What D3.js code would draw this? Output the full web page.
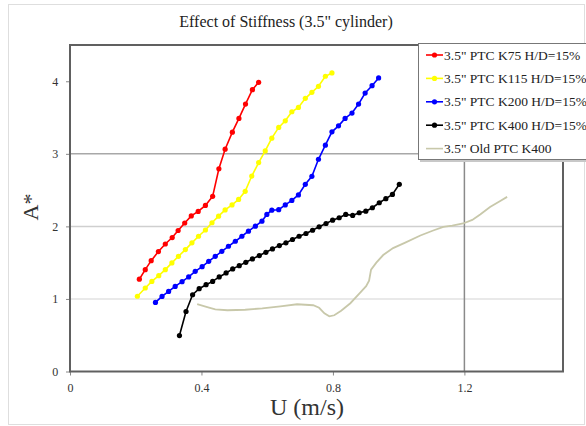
<!DOCTYPE html>
<html><head><meta charset="utf-8">
<script src="https://cdn.jsdelivr.net/npm/d3@7"></script>
<style>body{margin:0;background:#fff}svg{display:block}text{font-family:"Liberation Serif","Times New Roman",serif}</style>
</head><body>
<svg id="c" width="586" height="426"></svg>
<script>
const title = 'Effect of Stiffness (3.5" cylinder)';
const xTicks = [0, 0.4, 0.8, 1.2];
const yTicks = [0, 1, 2, 3, 4];
const seriesNames = ['3.5" PTC K75 H/D=15%', '3.5" PTC K115 H/D=15%', '3.5" PTC K200 H/D=15%', '3.5" PTC K400 H/D=15%', '3.5" Old PTC K400'];

const k75U = [0.211,0.229,0.247,0.269,0.290,0.311,0.329,0.349,0.369,0.390,0.412,0.434,0.453,0.472,0.494,0.514,0.534,0.555,0.574];
const k75A = [1.272,1.404,1.528,1.653,1.757,1.846,1.943,2.047,2.144,2.206,2.289,2.414,2.794,3.064,3.299,3.488,3.686,3.884,3.986];

const k115U = [0.205,0.229,0.249,0.270,0.290,0.310,0.330,0.351,0.371,0.391,0.412,0.432,0.452,0.472,0.493,0.513,0.533,0.553,0.574,0.594,0.614,0.635,0.655,0.675,0.695,0.716,0.736,0.756,0.777,0.797];
const k115A = [1.037,1.151,1.242,1.321,1.404,1.497,1.588,1.680,1.773,1.864,1.950,2.050,2.141,2.227,2.296,2.372,2.483,2.694,2.880,3.040,3.216,3.364,3.455,3.580,3.640,3.765,3.848,3.931,4.069,4.115];

const k200U = [0.260,0.280,0.300,0.320,0.341,0.361,0.381,0.402,0.422,0.442,0.462,0.482,0.503,0.523,0.543,0.564,0.584,0.599,0.614,0.635,0.655,0.675,0.695,0.716,0.736,0.756,0.777,0.797,0.817,0.837,0.858,0.878,0.898,0.919,0.939];
const k200A = [0.952,1.035,1.104,1.173,1.238,1.303,1.380,1.445,1.519,1.588,1.657,1.726,1.795,1.864,1.934,2.003,2.072,2.165,2.224,2.230,2.296,2.358,2.434,2.580,2.690,2.925,3.119,3.303,3.386,3.488,3.562,3.686,3.838,3.939,4.046];

const k400U = [0.333,0.353,0.373,0.393,0.414,0.434,0.454,0.475,0.495,0.515,0.535,0.555,0.576,0.596,0.616,0.637,0.657,0.677,0.697,0.718,0.738,0.758,0.779,0.799,0.819,0.839,0.860,0.880,0.900,0.920,0.941,0.961,0.981,1.002];
const k400A = [0.495,0.827,1.058,1.141,1.196,1.242,1.303,1.358,1.414,1.459,1.505,1.552,1.598,1.643,1.690,1.736,1.773,1.819,1.864,1.902,1.947,1.994,2.040,2.086,2.119,2.165,2.151,2.188,2.210,2.257,2.326,2.382,2.441,2.580];

const oldU = [0.387,0.415,0.442,0.479,0.533,0.585,0.640,0.691,0.740,0.758,0.774,0.789,0.804,0.825,0.853,0.883,0.901,0.910,0.916,0.932,0.953,0.983,1.020,1.066,1.105,1.136,1.163,1.196,1.224,1.248,1.278,1.309,1.330];
const oldA = [0.927,0.892,0.857,0.844,0.851,0.871,0.899,0.927,0.913,0.878,0.802,0.761,0.775,0.837,0.941,1.086,1.176,1.252,1.404,1.501,1.605,1.701,1.777,1.874,1.943,1.992,2.012,2.040,2.089,2.165,2.268,2.351,2.407];

const colors = ['#ff0000', '#ffff00', '#0000ff', '#000000', '#c8c8aa'];
const series = [
  {u:k75U, a:k75A, markers:true},
  {u:k115U, a:k115A, markers:true},
  {u:k200U, a:k200A, markers:true},
  {u:k400U, a:k400A, markers:true},
  {u:oldU, a:oldA, markers:false}
].map((s,i)=>({...s, name:seriesNames[i], color:colors[i], pts:s.u.map((u,j)=>[u,s.a[j]])}));

const svg = d3.select('#c');
const L = 70, T = 45, R = 563, B = 371.5;
const x = d3.scaleLinear().domain([0,1.5]).range([L,R]);
const y = d3.scaleLinear().domain([0,4.5]).range([B,T]);

// outer border
svg.append('rect').attr('x',8.5).attr('y',4.5).attr('width',576).attr('height',420).attr('fill','#fff').attr('stroke','#dedede');

// title
svg.append('text').attr('x',286).attr('y',27).attr('text-anchor','middle').attr('font-size',16).attr('fill','#222').text(title);

// gridlines
const gridCol = {1:'#e2e2e2', 2:'#cfcfcf', 3:'#a8a8a8'};
svg.append('g').selectAll('line').data([1,2,3]).join('line')
  .attr('x1',L).attr('x2',R).attr('y1',d=>y(d)).attr('y2',d=>y(d))
  .attr('stroke',d=>gridCol[d]).attr('stroke-width',1.5);
svg.append('line').attr('x1',x(1.2)).attr('x2',x(1.2)).attr('y1',T).attr('y2',B).attr('stroke','#8a8a8a').attr('stroke-width',1.5);

// axes
const xAxis = d3.axisBottom(x).tickValues(xTicks).tickSize(4).tickFormat(d3.format('~g'));
const yAxis = d3.axisLeft(y).tickValues(yTicks).tickSize(4).tickFormat(d3.format('d'));
const gx = svg.append('g').attr('transform',`translate(0,${B})`).call(xAxis);
const gy = svg.append('g').attr('transform',`translate(${L},0)`).call(yAxis);
[gx,gy].forEach(g=>{
  g.select('.domain').remove();
  g.selectAll('line').attr('stroke','#888');
  g.selectAll('text').attr('font-family','"Liberation Serif",serif').attr('font-size',12).attr('fill','#333');
});
gx.selectAll('text').attr('dy','1.1em');
gy.selectAll('text').attr('dx','-0.4em');

// frame
svg.append('rect').attr('x',L).attr('y',T).attr('width',R-L).attr('height',B-T).attr('fill','none').attr('stroke','#606060').attr('stroke-width',2);

// axis titles
svg.append('text').attr('transform','translate(38,207) rotate(-90)').attr('text-anchor','middle').attr('font-size',22).attr('fill','#333').text('A*');
svg.append('text').attr('x',307).attr('y',415).attr('text-anchor','middle').attr('font-size',24).attr('fill','#333').text('U (m/s)');

// series
const line = d3.line().x(d=>x(d[0])).y(d=>y(d[1]));
const gs = svg.append('g');
series.slice().reverse().forEach(s=>{
  gs.append('path').attr('d',line(s.pts)).attr('fill','none').attr('stroke',s.color).attr('stroke-width',s.markers?1.6:1.8);
  if(s.markers){
    gs.append('g').selectAll('circle').data(s.pts).join('circle')
      .attr('cx',d=>x(d[0])).attr('cy',d=>y(d[1])).attr('r',2.6).attr('fill',s.color);
  }
});

// legend
const lg = svg.append('g');
lg.append('rect').attr('x',420).attr('y',45).attr('width',170).attr('height',117).attr('fill','#c8c8c8');
lg.append('rect').attr('x',418.5).attr('y',43.5).attr('width',170).attr('height',116).attr('fill','#fff').attr('stroke','#777');
series.forEach((s,i)=>{
  const yy = 55 + i*23.4;
  lg.append('line').attr('x1',426).attr('x2',443).attr('y1',yy).attr('y2',yy).attr('stroke',s.color).attr('stroke-width',1.6);
  if(s.markers) lg.append('circle').attr('cx',434.5).attr('cy',yy).attr('r',2.6).attr('fill',s.color);
  lg.append('text').attr('x',444).attr('y',yy+4.5).attr('font-size',13.5).attr('fill','#222').text(s.name);
});
</script>
</body></html>
